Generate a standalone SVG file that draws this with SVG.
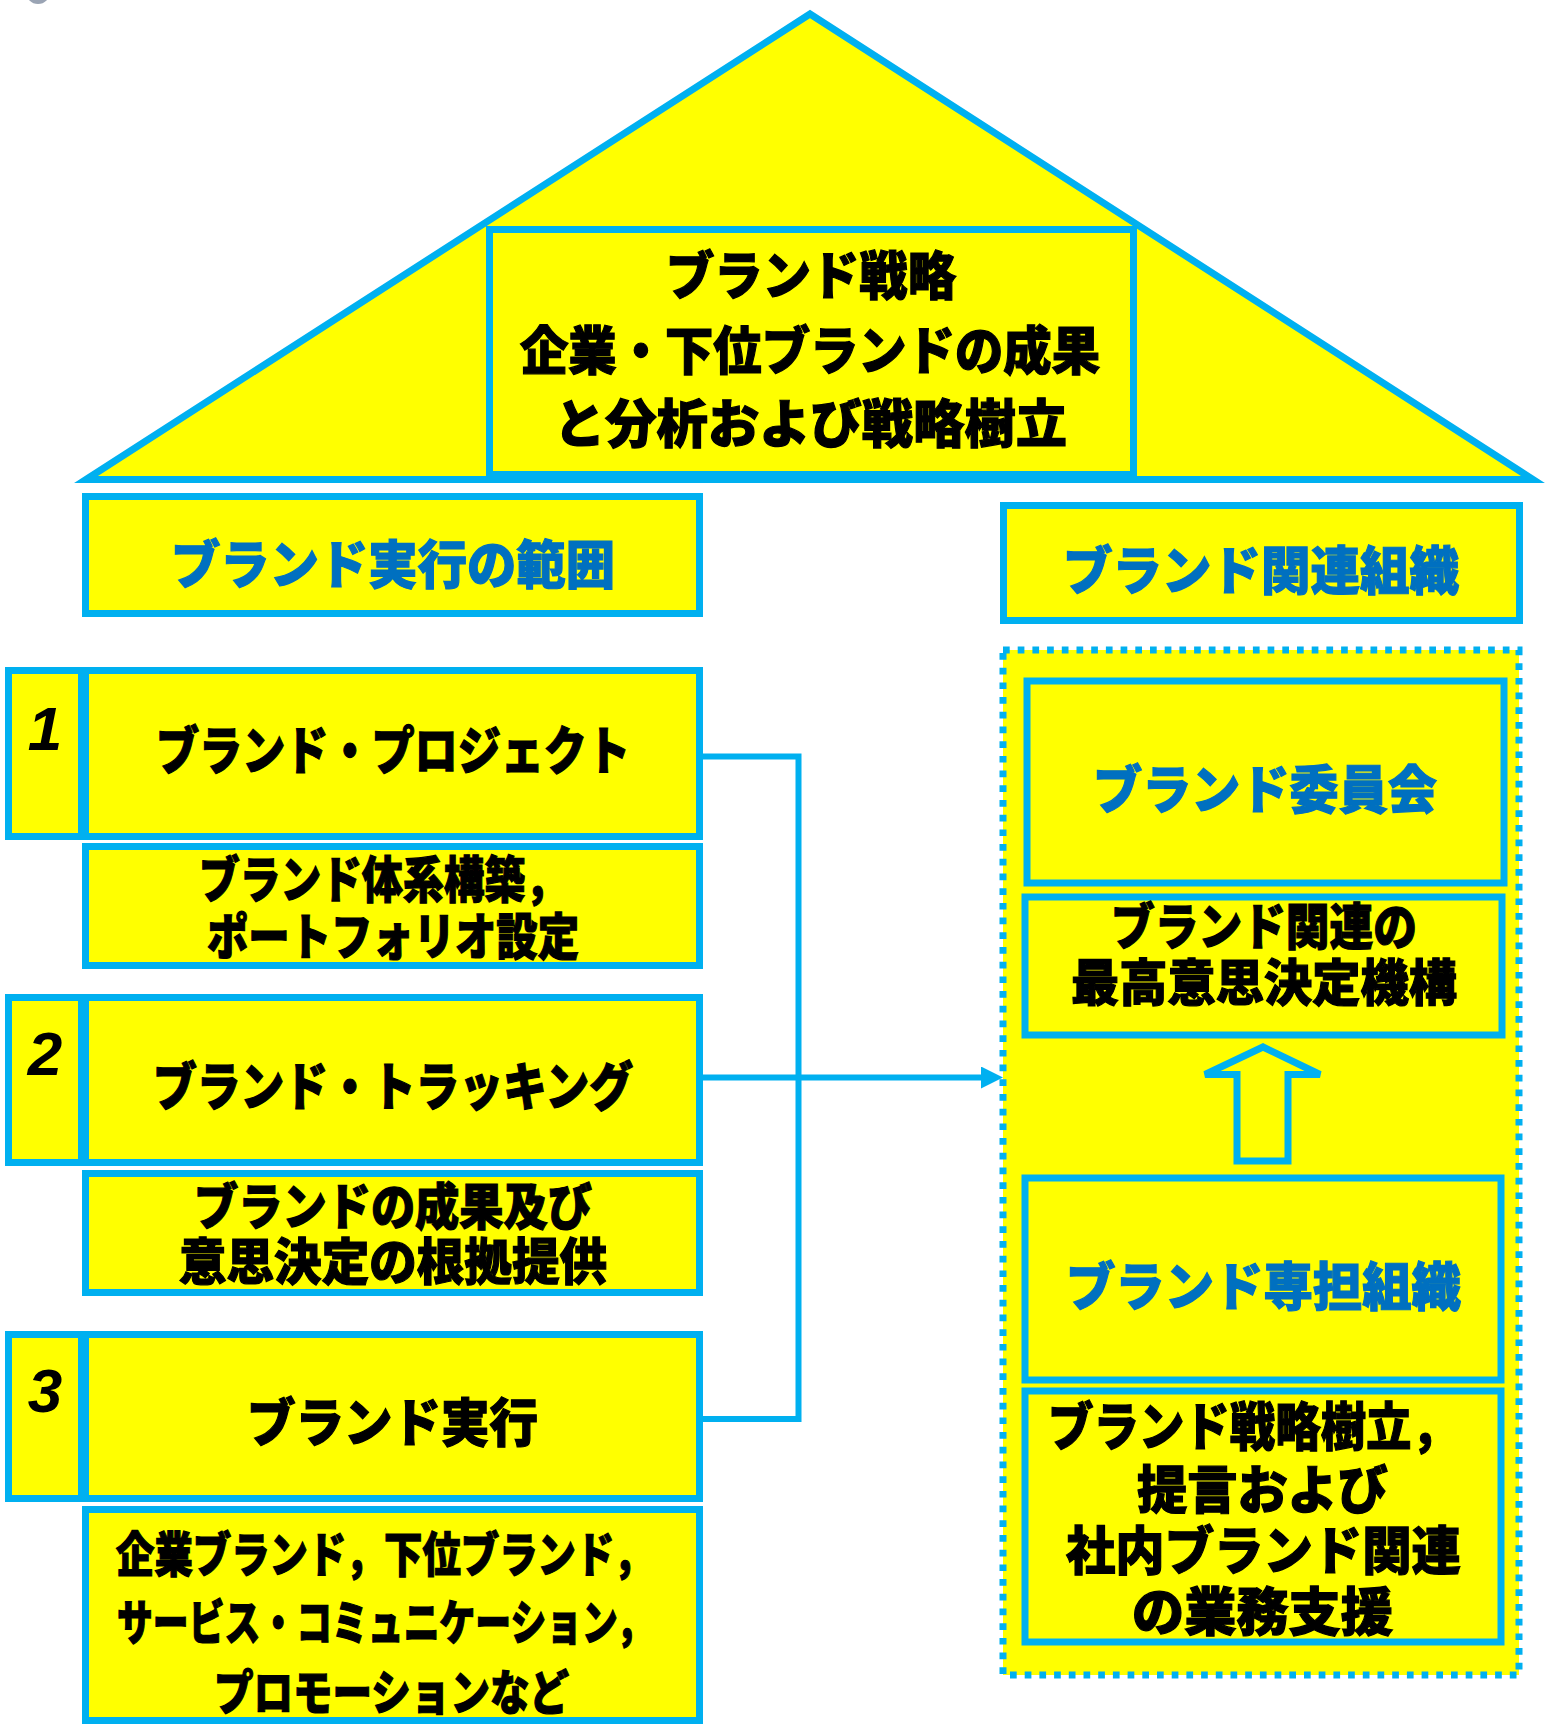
<svg xmlns="http://www.w3.org/2000/svg" width="1546" height="1724" viewBox="0 0 1546 1724">
<style>
.box{fill:#FFFF00;stroke:#00B0F0;stroke-width:7}
.t{font-family:"Noto Sans CJK JP","Noto Sans CJK SC",sans-serif;font-weight:900;fill:#000;stroke:#000;stroke-width:1.2}
.bl{fill:#0070C0;stroke:#0070C0}
.num{font-family:"Liberation Sans",sans-serif;font-weight:bold;font-style:italic;font-size:62px;fill:#000;text-anchor:middle}
.con{fill:none;stroke:#00B0F0;stroke-width:6}
</style>
<defs>
<marker id="ah" markerUnits="userSpaceOnUse" markerWidth="22" markerHeight="22" refX="4" refY="11" orient="auto">
<path d="M0,0 L22,11 L0,22 z" fill="#00B0F0"/>
</marker>
</defs>
<rect width="1546" height="1724" fill="#FFFFFF"/>
<circle cx="38" cy="-8" r="12" fill="#9AA4B4"/>

<g id="roof">
<polygon points="86,479.5 810,14 1533,479.5" fill="#FFFF00" stroke="#00B0F0" stroke-width="7"/>
<rect class="box" x="489.5" y="229.5" width="644" height="245"/>
<text class="t" font-size="52" x="666" y="295" textLength="290" lengthAdjust="spacingAndGlyphs">ブランド戦略</text>
<text class="t" font-size="52" x="520" y="370" textLength="580" lengthAdjust="spacingAndGlyphs">企業・下位ブランドの成果</text>
<text class="t" font-size="52" x="554" y="443" textLength="513" lengthAdjust="spacingAndGlyphs">と分析および戦略樹立</text>
</g>

<g id="scope-header">
<rect class="box" x="85.5" y="496.5" width="614" height="117"/>
<text class="t bl" font-size="52" x="171" y="584" textLength="444" lengthAdjust="spacingAndGlyphs">ブランド実行の範囲</text>
</g>

<g id="item1">
<rect class="box" x="8.5" y="670.5" width="73" height="166"/>
<rect class="box" x="85.5" y="670.5" width="614" height="166"/>
<text class="num" x="45" y="750">1</text>
<text class="t" font-size="52" x="156" y="770" textLength="474" lengthAdjust="spacingAndGlyphs">ブランド・プロジェクト</text>
</g>
<g id="item1-desc">
<rect class="box" x="85.5" y="846.5" width="614" height="119"/>
<text class="t" font-size="50" x="199" y="898" textLength="367" lengthAdjust="spacingAndGlyphs">ブランド体系構築，</text>
<text class="t" font-size="50" x="207" y="955" textLength="372" lengthAdjust="spacingAndGlyphs">ポートフォリオ設定</text>
</g>

<g id="item2">
<rect class="box" x="8.5" y="997.5" width="73" height="165"/>
<rect class="box" x="85.5" y="997.5" width="614" height="165"/>
<text class="num" x="45" y="1075">2</text>
<text class="t" font-size="52" x="153" y="1106" textLength="480" lengthAdjust="spacingAndGlyphs">ブランド・トラッキング</text>
</g>
<g id="item2-desc">
<rect class="box" x="85.5" y="1173.5" width="614" height="119"/>
<text class="t" font-size="50" x="194" y="1225" textLength="398" lengthAdjust="spacingAndGlyphs">ブランドの成果及び</text>
<text class="t" font-size="50" x="179" y="1280" textLength="428" lengthAdjust="spacingAndGlyphs">意思決定の根拠提供</text>
</g>

<g id="item3">
<rect class="box" x="8.5" y="1334.5" width="73" height="164"/>
<rect class="box" x="85.5" y="1334.5" width="614" height="164"/>
<text class="num" x="45" y="1412">3</text>
<text class="t" font-size="52" x="247" y="1442" textLength="291" lengthAdjust="spacingAndGlyphs">ブランド実行</text>
</g>
<g id="item3-desc">
<rect class="box" x="85.5" y="1509.5" width="614" height="211"/>
<text class="t" font-size="48" x="116" y="1572" textLength="536" lengthAdjust="spacingAndGlyphs">企業ブランド，下位ブランド，</text>
<text class="t" font-size="48" x="117" y="1640" textLength="535" lengthAdjust="spacingAndGlyphs">サービス・コミュニケーション，</text>
<text class="t" font-size="48" x="214" y="1710" textLength="355" lengthAdjust="spacingAndGlyphs">プロモーションなど</text>
</g>

<g id="org-header">
<rect class="box" x="1003.5" y="505.5" width="516" height="115"/>
<text class="t bl" font-size="52" x="1063" y="590" textLength="396" lengthAdjust="spacingAndGlyphs">ブランド関連組織</text>
</g>

<g id="org-group">
<rect x="1003" y="650" width="516" height="1025" fill="#FFFF00" stroke="#00B0F0" stroke-width="7" stroke-dasharray="6.7 8"/>
</g>

<g id="committee">
<rect class="box" x="1027" y="681" width="477" height="202"/>
<text class="t bl" font-size="52" x="1093" y="809" textLength="344" lengthAdjust="spacingAndGlyphs">ブランド委員会</text>
</g>
<g id="committee-desc">
<rect class="box" x="1025" y="897" width="477" height="138"/>
<text class="t" font-size="50" x="1111" y="945" textLength="306" lengthAdjust="spacingAndGlyphs">ブランド関連の</text>
<text class="t" font-size="50" x="1071" y="1001" textLength="386" lengthAdjust="spacingAndGlyphs">最高意思決定機構</text>
</g>

<g id="up-arrow">
<polygon points="1263,1047 1320,1074.5 1288,1074.5 1288,1161 1237,1161 1237,1074.5 1205,1074.5" fill="#FFFF00" stroke="#00B0F0" stroke-width="7"/>
</g>

<g id="dedicated">
<rect class="box" x="1025" y="1178" width="476" height="202"/>
<text class="t bl" font-size="52" x="1066" y="1306" textLength="395" lengthAdjust="spacingAndGlyphs">ブランド専担組織</text>
</g>
<g id="dedicated-desc">
<rect class="box" x="1025" y="1391" width="476" height="251"/>
<text class="t" font-size="52" x="1048" y="1446" textLength="409" lengthAdjust="spacingAndGlyphs">ブランド戦略樹立，</text>
<text class="t" font-size="52" x="1137" y="1509" textLength="251" lengthAdjust="spacingAndGlyphs">提言および</text>
<text class="t" font-size="52" x="1066" y="1570" textLength="395" lengthAdjust="spacingAndGlyphs">社内ブランド関連</text>
<text class="t" font-size="52" x="1132" y="1631" textLength="261" lengthAdjust="spacingAndGlyphs">の業務支援</text>
</g>

<g id="connectors">
<polyline class="con" points="703,756.5 798.5,756.5 798.5,1419 703,1419"/>
<line class="con" x1="703" y1="1077.5" x2="985" y2="1077.5" marker-end="url(#ah)"/>
</g>
</svg>
